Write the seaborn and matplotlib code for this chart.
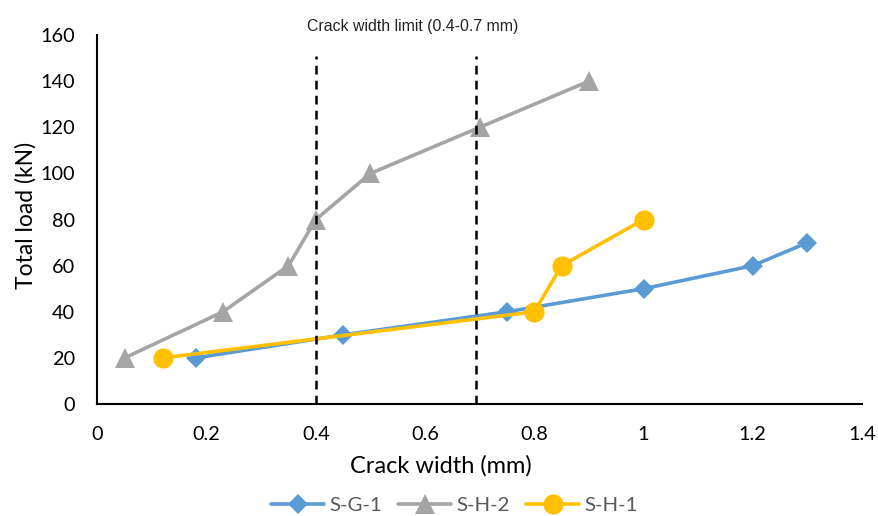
import matplotlib
matplotlib.use("Agg")
import matplotlib.pyplot as plt
import seaborn as sns
import pandas as pd

# Crack width (mm) vs. total load (kN) for three specimens
sg1_width = [0.18, 0.45, 0.75, 1.0, 1.2, 1.3]
sg1_load = [20, 30, 40, 50, 60, 70]

sh2_width = [0.05, 0.23, 0.35, 0.40, 0.50, 0.70, 0.90]
sh2_load = [20, 40, 60, 80, 100, 120, 140]

sh1_width = [0.12, 0.80, 0.85, 1.0]
sh1_load = [20, 40, 60, 80]

limit_lines = [0.40, 0.693]
limit_top = 151

x_ticks = [0, 0.2, 0.4, 0.6, 0.8, 1, 1.2, 1.4]
y_ticks = [0, 20, 40, 60, 80, 100, 120, 140, 160]

sns.set_theme(style="white")
plt.rcParams["font.family"] = ["Lato", "DejaVu Sans"]

fig = plt.figure(figsize=(8.79, 5.16), dpi=100)
ax = fig.add_axes([0.1107, 0.217, 0.870, 0.715])

series = [
    ("S-G-1", sg1_width, sg1_load, "#5B9BD5", "D", 9.8),
    ("S-H-2", sh2_width, sh2_load, "#A5A5A5", "^", 14.5),
    ("S-H-1", sh1_width, sh1_load, "#FFC000", "o", 14.5),
]
for name, xs, ys, col, mk, ms in series:
    df = pd.DataFrame({"w": xs, "p": ys})
    sns.lineplot(data=df, x="w", y="p", ax=ax, color=col, marker=mk,
                 markersize=ms, markeredgewidth=0, linewidth=2.6,
                 sort=False, label=name)

ax.vlines(limit_lines, 0, limit_top, colors="black", linestyles=(0, (3.5, 2.5)),
          linewidth=1.8, zorder=5)
ax.text(0.5765, 163.8, "Crack width limit (0.4-0.7 mm)", ha="center", va="center",
        fontsize=11.4, family=["Liberation Sans", "DejaVu Sans"], color="#222222",
        clip_on=False)

ax.set_xlim(0, 1.4)
ax.set_ylim(0, 160)
ax.set_xticks(x_ticks)
ax.set_xticklabels([f"{t:g}" for t in x_ticks])
ax.set_yticks(y_ticks)
ax.tick_params(axis="both", direction="out", length=5, width=1.5, color="black",
               labelsize=14.3, labelcolor="black")
ax.tick_params(axis="x", pad=11)
ax.tick_params(axis="y", pad=11)
for side in ["top", "right"]:
    ax.spines[side].set_visible(False)
for side in ["left", "bottom"]:
    ax.spines[side].set_color("black")
    ax.spines[side].set_linewidth(1.5)

ax.set_xlabel("Crack width (mm)", fontsize=17, color="black")
ax.set_ylabel("Total load (kN)", fontsize=16.5, color="black")
ax.xaxis.label.set_va("center")
ax.xaxis.set_label_coords(0.449, -0.167)
ax.yaxis.label.set_va("center")
ax.yaxis.set_label_coords(-0.093, 0.51)

leg = ax.legend(loc="center", bbox_to_anchor=(0.467, -0.274), ncol=3,
                frameon=False, fontsize=14.7, handlelength=2.6, columnspacing=0.8,
                handletextpad=0.25, borderpad=0)
for t in leg.get_texts():
    t.set_color("#595959")

fig.savefig("out.png", dpi=100)
